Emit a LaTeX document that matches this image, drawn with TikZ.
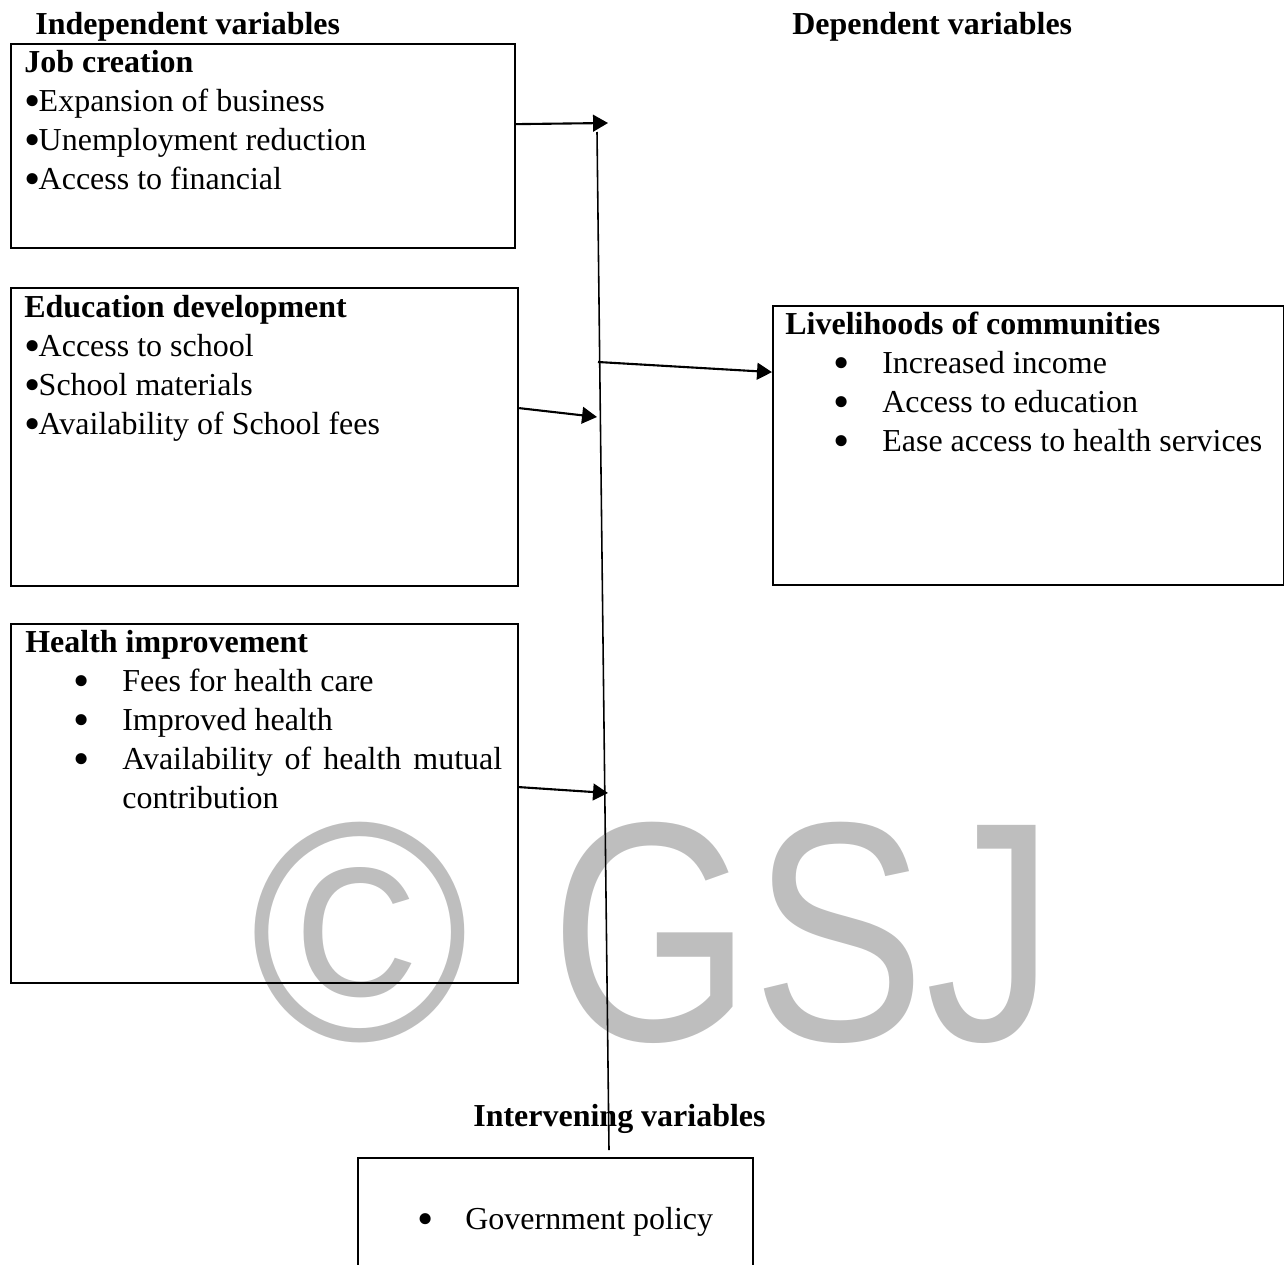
\documentclass[tikz,border=0pt]{standalone}
\usepackage{fontspec}
\setmainfont{Liberation Serif}
\newfontfamily\wmfont{Liberation Sans}
\usetikzlibrary{arrows.meta}
\definecolor{wmgray}{RGB}{190,190,190}
\newcommand{\boxlines}[1]{\begin{tabular}[t]{@{}l@{}}#1\end{tabular}}
\newcommand{\bul}{\raisebox{-0.16em}{\scalebox{1.45}{•}}}
\newcommand{\ibul}{\makebox[0.45em][l]{\bul}}
\newcommand{\litem}{\hspace*{0.96cm}\makebox[0.98cm][l]{\bul}}

\begin{document}
\begin{tikzpicture}
[x=0.02cm, y=-0.02cm, font=\fontsize{18.2}{22.2}\selectfont,
ar/.style={-{Triangle[length=8.5pt,width=9.5pt]}, line width=1.2pt},
varbox/.style={
  draw, line width=1.3pt, inner sep=0pt, anchor=north west
  }
]

\tikzstyle{boxtext} = [anchor=base west, inner sep=0pt]
\tikzstyle{spine} = [line width=0.9pt]

\useasboundingbox (0,0) rectangle (1284,1264);

% watermark
\node[boxtext, text=wmgray] (wm) at (250,1040) {\wmfont\fontsize{178}{178}\selectfont
  \scalebox{0.95}[1]{©}\hspace{0.26em}\scalebox{0.83}[1]{GSJ}};

% boxes
\node[varbox, minimum width=10.08cm, minimum height=4.08cm] (jobbox) at (10,43) {};
\node[varbox, minimum width=10.14cm, minimum height=5.96cm] (edubox) at (10,287) {};
\node[varbox, minimum width=10.14cm, minimum height=7.18cm] (healthbox) at (10,623) {};
\node[varbox, minimum width=10.22cm, minimum height=5.58cm] (livebox) at (772,305) {};
\node[varbox, minimum width=7.9cm, minimum height=2.4cm] (govbox) at (357,1157) {};

% texts
\node[boxtext] (indep) at (35,35) {\textbf{Independent variables}};
\node[boxtext] (dep) at (792,35) {\textbf{Dependent variables}};
\node[boxtext] (interv) at (473,1126) {\textbf{Intervening variables}};

\node[boxtext] (jobtext) at (24,72) {\boxlines{\textbf{Job creation}\\
  \ibul Expansion of business\\ \ibul Unemployment reduction\\ \ibul Access to financial}};
\node[boxtext] (edutext) at (24,317) {\boxlines{\textbf{Education development}\\
  \ibul Access to school\\ \ibul School materials\\ \ibul Availability of School fees}};
\node[boxtext] (healthtext) at (25,652) {\boxlines{\textbf{Health improvement}\\
  \litem Fees for health care\\ \litem Improved health\\
  \litem\makebox[7.6cm][s]{Availability of health mutual}\\
  \hspace*{1.94cm}contribution}};
\node[boxtext] (livetext) at (785,334) {\boxlines{\textbf{Livelihoods of communities}\\
  \litem Increased income\\ \litem Access to education\\
  \litem Ease access to health services}};
\node[boxtext] (govtext) at (417,1229) {\makebox[0.96cm][l]{\bul}Government policy};

%edges
\coordinate (spinetop) at (597,132);
\coordinate (spinebot) at (609,1150);
\coordinate (jobtip) at (608,123);
\coordinate (edutip) at (597,417);
\coordinate (healthtip) at (608,793);
\coordinate (livestart) at (598,362);

\draw[spine] (spinetop) -- (spinebot);
\draw[ar] ([yshift=0.44cm]jobbox.east) -- (jobtip);
\draw[ar] ([yshift=0.58cm]edubox.east) -- (edutip);
\draw[ar] ([yshift=0.33cm]healthbox.east) -- (healthtip);
\draw[ar] (livestart) -- ([yshift=1.47cm]livebox.west);

\end{tikzpicture}
\end{document}
